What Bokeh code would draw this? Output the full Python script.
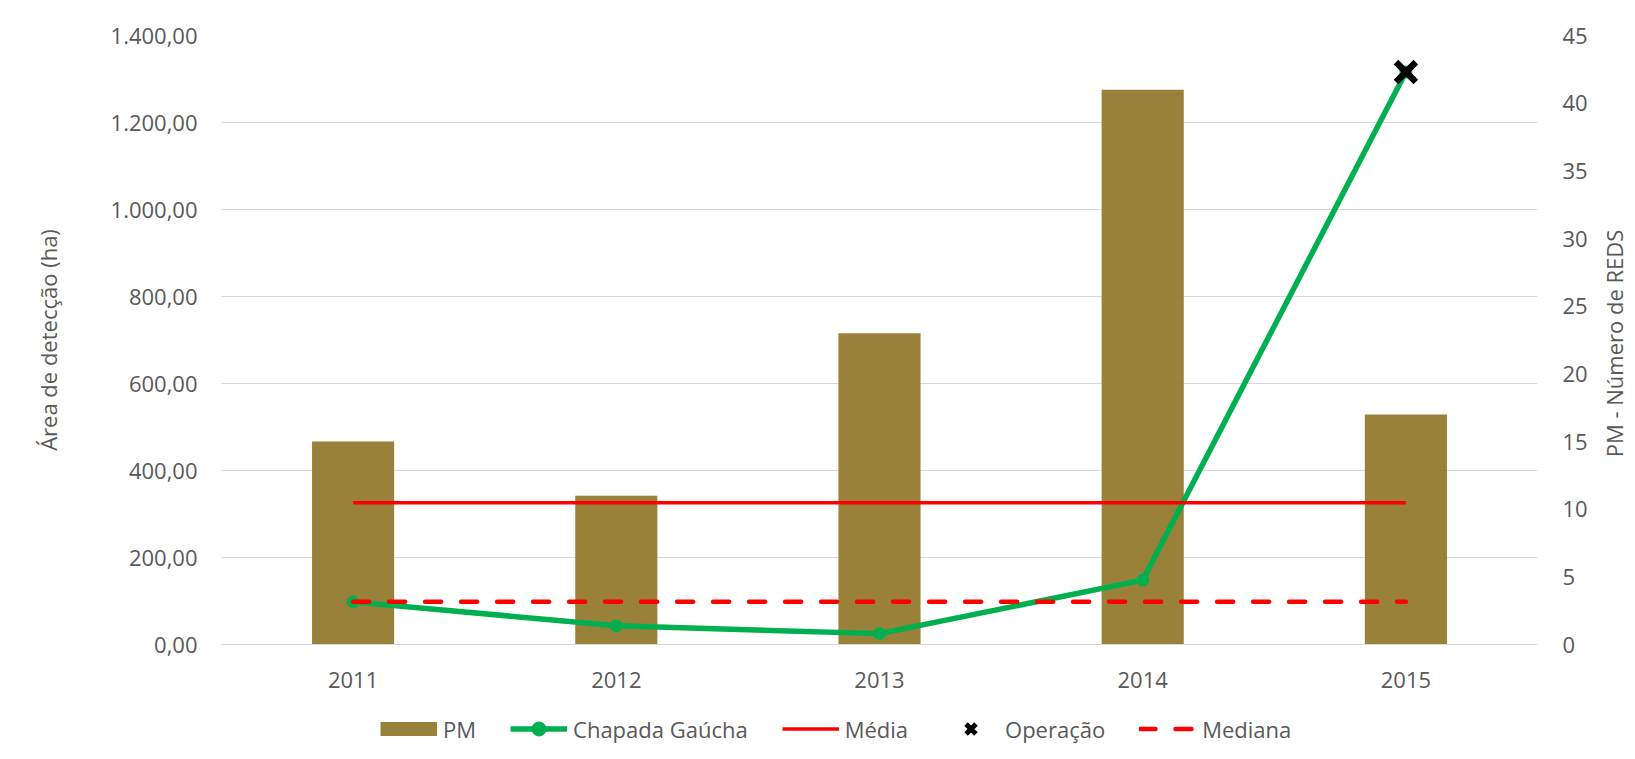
import math
import numpy as np
from bokeh.plotting import figure
from bokeh.layouts import row, column
from bokeh.models import (Range1d, LinearAxis, FixedTicker, Legend, LegendItem,
                          FactorRange, Label)
from bokeh.embed import file_html
from bokeh.resources import INLINE

# ---- data ----
years = ["2011", "2012", "2013", "2014", "2015"]
pm_reds = [15, 11, 23, 41, 17]                 # PM - Número de REDS (right axis)
chapada_ha = [98, 43, 25, 148, 1316]           # Chapada Gaúcha - área (ha) (left axis)
operacao_year = ["2015"]
operacao_ha = [1316]
left_ticks = [0, 200, 400, 600, 800, 1000, 1200, 1400]
right_ticks = [0, 5, 10, 15, 20, 25, 30, 35, 40, 45]
legend_labels = ["PM", "Chapada Gaúcha", "Média", "Operação", "Mediana"]
left_title = "Área de detecção (ha)"
right_title = "PM - Número de REDS"

media = float(np.mean(chapada_ha))
mediana = float(np.median(chapada_ha))


def br(v):
    s = f"{v:,.2f}"
    return s.replace(",", "X").replace(".", ",").replace("X", ".")


FONT = "Open Sans"
TXT = "#595959"
GRID = "#D9D9D9"
FS = "22px"
BAR = "#937A2E"
GREEN = "#00B050"
RED = "#FF0000"

W_MAIN, H_MAIN = 1598, 700
W_TITLE = 34
H_LEG = 57


def style(f):
    f.x_range.range_padding = 0 if isinstance(f.x_range, FactorRange) else f.x_range.range_padding


# ---------------- main chart ----------------
p = figure(x_range=FactorRange(factors=years, range_padding=0),
           y_range=Range1d(0, 1400),
           width=W_MAIN, height=H_MAIN,
           output_backend="svg", toolbar_location=None,
           min_border_left=221, min_border_right=61,
           min_border_top=35, min_border_bottom=56)
p.extra_y_ranges = {"reds": Range1d(0, 45)}
p.outline_line_color = None
p.background_fill_color = "white"

p.vbar(x=years, top=pm_reds, width=0.312, y_range_name="reds",
       fill_color=BAR, fill_alpha=0.95, line_color=None)
p.line(x=years, y=chapada_ha, line_color=GREEN, line_width=5.5)
p.scatter(x=years, y=chapada_ha, size=12, fill_color=GREEN, line_color=GREEN)
p.line(x=years, y=[media] * len(years), line_color=RED, line_width=3.5)
p.scatter(x=operacao_year, y=operacao_ha, marker="x", size=28,
          line_color="black", line_width=6.5)
p.line(x=years, y=[mediana] * len(years), line_color=RED,
       line_width=4.5, line_dash="16 20", line_cap="round")

p.xgrid.visible = False
p.ygrid.ticker = FixedTicker(ticks=left_ticks)
p.ygrid.grid_line_color = GRID
p.ygrid.grid_line_width = 1.2

ax_l = p.yaxis[0]
ax_l.ticker = FixedTicker(ticks=left_ticks)
ax_l.major_label_overrides = {t: br(t) for t in left_ticks}
ax_l.axis_label = left_title
ax_l.axis_label_standoff = 45
ax_l.major_label_standoff = 24

ax_x = p.xaxis[0]
ax_x.major_label_standoff = 27
ax_x.axis_line_color = GRID

ax_r = LinearAxis(y_range_name="reds", ticker=FixedTicker(ticks=right_ticks))
ax_r.major_label_standoff = 25
p.add_layout(ax_r, "right")

for ax in (ax_l, ax_x, ax_r):
    ax.major_tick_out = 0
    ax.major_tick_in = 0
    ax.minor_tick_out = 0
    ax.minor_tick_in = 0
    ax.major_label_text_font = FONT
    ax.major_label_text_font_size = FS
    ax.major_label_text_color = TXT
    ax.axis_label_text_font = FONT
    ax.axis_label_text_font_size = FS
    ax.axis_label_text_color = TXT
    ax.axis_label_text_font_style = "normal"
ax_l.axis_line_color = None
ax_r.axis_line_color = None

# ---------------- right axis title (reads bottom to top) ----------------
pt = figure(width=W_TITLE, height=H_MAIN + H_LEG, output_backend="svg",
            toolbar_location=None, x_axis_type=None, y_axis_type=None,
            min_border=0, x_range=Range1d(0, 1), y_range=Range1d(0, 1))
pt.outline_line_color = None
pt.grid.visible = False
pt.add_layout(Label(x=15, y=414, x_units="screen", y_units="screen",
                    text=right_title, angle=math.pi / 2,
                    text_align="center", text_baseline="middle",
                    text_font=FONT, text_font_size=FS, text_color=TXT))

# ---------------- legend strip ----------------
# legend proxies use the same series, but the strip's y range keeps them out of view
pl = figure(width=W_MAIN, height=H_LEG, output_backend="svg",
            toolbar_location=None, x_axis_type=None, y_axis_type=None,
            min_border=0, x_range=FactorRange(factors=years, range_padding=0),
            y_range=Range1d(-2, -1))
pl.outline_line_color = None
pl.grid.visible = False
r_pm = pl.line(x=years, y=pm_reds, line_color=BAR, line_alpha=0.95,
               line_width=14)
r_gl = pl.line(x=years, y=chapada_ha, line_color=GREEN, line_width=5.5)
r_gp = pl.scatter(x=years, y=chapada_ha, fill_color=GREEN, line_color=GREEN)
r_me = pl.line(x=years, y=[media] * len(years), line_color=RED, line_width=3.5)
r_op = pl.scatter(x=operacao_year, y=operacao_ha, marker="x",
                  line_color="black", line_width=5)
r_md = pl.line(x=years, y=[mediana] * len(years), line_color=RED,
               line_width=4.5, line_dash="16 20", line_cap="round")
legend = Legend(items=[
    LegendItem(label=legend_labels[0], renderers=[r_pm]),
    LegendItem(label=legend_labels[1], renderers=[r_gl, r_gp]),
    LegendItem(label=legend_labels[2], renderers=[r_me]),
    LegendItem(label=legend_labels[3], renderers=[r_op]),
    LegendItem(label=legend_labels[4], renderers=[r_md]),
], orientation="horizontal", location=(159, 11))
legend.glyph_width = 57
legend.glyph_height = 35
legend.label_standoff = 6
legend.spacing = 34
legend.padding = 0
legend.margin = 0
legend.border_line_color = None
legend.background_fill_alpha = 0
legend.label_text_font = FONT
legend.label_text_font_size = FS
legend.label_text_color = TXT
pl.add_layout(legend)

layout = row(column(p, pl), pt)
open("out.html", "w").write(file_html(layout, INLINE))
